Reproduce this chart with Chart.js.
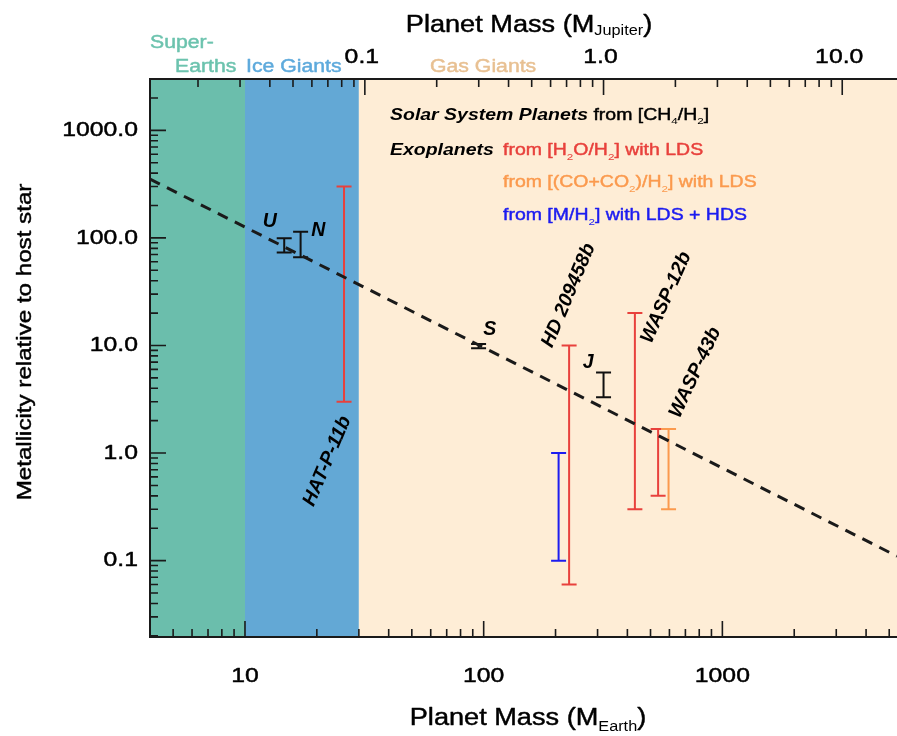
<!DOCTYPE html>
<html>
<head>
<meta charset="utf-8">
<title>Metallicity vs planet mass</title>
<script src="https://cdn.jsdelivr.net/npm/chart.js@4.4.1/dist/chart.umd.min.js"></script>
<style>
  html, body { margin: 0; padding: 0; background: #fff; }
  #wrap { position: relative; width: 897px; height: 736px; }
</style>
</head>
<body>
<div id="wrap"><canvas id="massChart"></canvas></div>
<script>
const FONT = "'Liberation Sans', Arial, sans-serif";
const MJUP = 317.8; // Earth masses in one Jupiter mass

// axis ranges
const massRange = [4, 5390];
const metalRange = [0.0195, 3000];

// labelled ticks
const earthTicks = [10, 100, 1000];
const jupiterTicks = [0.1, 1, 10];
const metalTicks = [0.1, 1, 10, 100, 1000];

// planet classes shaded behind the data
const bandEdges = [4, 10, 30, 5390];
const bandColors = ['#6bbeac', '#63a8d5', '#feedd6'];

// solar system planets, CH4/H2
const solarNames = ['U', 'N', 'S', 'J'];
const solarMass = [14.6, 17.1, 95.2, 317.8];
const solarLow = [73, 66, 9.4, 3.3];
const solarHigh = [99, 114, 10.3, 5.6];

// exoplanets from H2O/H2
const waterNames = ['HAT-P-11b', 'HD 209458b', 'WASP-12b', 'WASP-43b'];
const waterMass = [26, 228, 430, 538];
const waterLow = [3, 0.06, 0.3, 0.4];
const waterHigh = [300, 10, 20, 1.67];

// WASP-43b from (CO+CO2)/H2
const carbonMass = [595];
const carbonLow = [0.3];
const carbonHigh = [1.67];

// HD 209458b from M/H2
const metalMass = [206];
const metalLow = [0.1];
const metalHigh = [1.0];

// power law through the solar system planets
const fitMass = [4, 5390];
const fitMetal = [352, 0.11];

const RED = '#e8413c';
const ORANGE = '#fb9a4e';
const BLUE = '#1c1cf0';

function bars(mass, low, high) {
    return mass.map((m, i) => ({ x: m, y: Math.sqrt(low[i] * high[i]), lo: low[i], hi: high[i] }));
}

// name tags, anchored in data coordinates
const tags = [
    { t: solarNames[0], x: 12.7, y: 141, a: 0 },
    { t: solarNames[1], x: 20.3, y: 116, a: 0 },
    { t: solarNames[2], x: 106, y: 13.9, a: 0 },
    { t: solarNames[3], x: 274, y: 6.9, a: 0 },
    { t: waterNames[0], x: 22.1, y: 0.84, a: -67 },
    { t: waterNames[1], x: 227, y: 29.2, a: -67 },
    { t: waterNames[2], x: 582, y: 27.9, a: -66 },
    { t: waterNames[3], x: 770, y: 5.6, a: -65 },
];

function fontStr(size, bold, italic) {
    return (italic ? 'italic ' : '') + (bold ? 'bold ' : '') + size + 'px ' + FONT;
}

// writes a row of text pieces; pieces flagged sub are set smaller and lower
function drawRuns(ctx, runs, x, y, o) {
    const size = o.size;
    const sx = o.sx || 1;
    ctx.save();
    let w = 0;
    runs.forEach(r => {
        ctx.font = fontStr(r.sub ? size * 0.6 : size, r.bold || o.bold, r.italic || o.italic);
        r.w = ctx.measureText(r.t).width;
        w += r.w;
    });
    ctx.translate(x, y);
    if (o.angle) ctx.rotate(o.angle * Math.PI / 180);
    ctx.scale(sx, 1);
    ctx.textAlign = 'left';
    ctx.textBaseline = o.baseline || 'alphabetic';
    ctx.lineJoin = 'round';
    let cx = o.align === 'center' ? -w / 2 : (o.align === 'right' ? -w : 0);
    runs.forEach(r => {
        const bold = r.bold || o.bold;
        ctx.font = fontStr(r.sub ? size * 0.6 : size, bold, r.italic || o.italic);
        ctx.fillStyle = ctx.strokeStyle = r.color || o.color || '#000';
        const dy = r.sub ? size * (o.subDrop || 0.28) : 0;
        ctx.fillText(r.t, cx, dy);
        if (!bold && !r.sub) {
            // regular weight reads a little heavier in this figure
            ctx.lineWidth = 0.45;
            ctx.strokeText(r.t, cx, dy);
        }
        cx += r.w;
    });
    ctx.restore();
}

function logSteps(lo, hi) {
    const out = [];
    for (let e = Math.floor(Math.log10(lo)); e <= Math.ceil(Math.log10(hi)); e++) {
        for (let m = 1; m < 10; m++) {
            const v = m * Math.pow(10, e);
            if (v >= lo * 0.999 && v <= hi * 1.001) out.push({ v: v, major: m === 1 });
        }
    }
    return out;
}

const backdrop = {
    id: 'backdrop',
    beforeDraw(chart) {
        const { ctx, chartArea: a, scales: { x } } = chart;
        ctx.save();
        ctx.fillStyle = '#fff';
        ctx.fillRect(0, 0, chart.width, chart.height);
        for (let i = 0; i < bandColors.length; i++) {
            const x0 = Math.max(a.left, x.getPixelForValue(bandEdges[i]));
            const x1 = Math.min(a.right, x.getPixelForValue(bandEdges[i + 1]));
            ctx.fillStyle = bandColors[i];
            ctx.fillRect(x0, a.top, x1 - x0, a.bottom - a.top);
        }
        ctx.restore();
    },
    beforeDatasetsDraw(chart) {
        const { ctx, chartArea: a, scales: { x, y } } = chart;
        ctx.save();
        ctx.beginPath();
        ctx.rect(a.left, a.top, a.right - a.left, a.bottom - a.top);
        ctx.clip();
        chart.data.datasets.forEach(ds => {
            if (!ds.errColor) return;
            ctx.strokeStyle = ds.errColor;
            ctx.lineWidth = 2;
            ds.data.forEach(d => {
                const px = x.getPixelForValue(d.x);
                const p0 = y.getPixelForValue(d.lo);
                const p1 = y.getPixelForValue(d.hi);
                ctx.beginPath();
                ctx.moveTo(px, p0); ctx.lineTo(px, p1);
                ctx.moveTo(px - 7.5, p0); ctx.lineTo(px + 7.5, p0);
                ctx.moveTo(px - 7.5, p1); ctx.lineTo(px + 7.5, p1);
                ctx.stroke();
            });
        });
        ctx.restore();
    }
};

const frame = {
    id: 'frame',
    afterDraw(chart) {
        const { ctx, chartArea: a, scales: { x, x2, y } } = chart;
        ctx.save();
        ctx.strokeStyle = '#1a1a1a';
        ctx.lineWidth = 1.6;
        ctx.beginPath();
        logSteps(y.min, y.max).forEach(t => {
            const p = y.getPixelForValue(t.v);
            ctx.moveTo(a.left, p); ctx.lineTo(a.left + (t.major ? 16 : 8), p);
        });
        logSteps(x.min, x.max).forEach(t => {
            const p = x.getPixelForValue(t.v);
            ctx.moveTo(p, a.bottom); ctx.lineTo(p, a.bottom - (t.major ? 16 : 8));
        });
        logSteps(x2.min, x2.max).forEach(t => {
            const p = x2.getPixelForValue(t.v);
            ctx.moveTo(p, a.top); ctx.lineTo(p, a.top + (t.major ? 16 : 8));
        });
        ctx.stroke();

        ctx.lineWidth = 2;
        ctx.beginPath();
        ctx.moveTo(a.right, a.top); ctx.lineTo(a.left, a.top);
        ctx.lineTo(a.left, a.bottom); ctx.lineTo(a.right, a.bottom);
        ctx.stroke();
        ctx.restore();

        // tick labels, set in the same wide face as the rest of the text
        const tl = { size: 21, sx: 1.18, baseline: 'middle' };
        metalTicks.forEach(v => drawRuns(ctx, [{ t: v.toFixed(1) }], a.left - 12, y.getPixelForValue(v),
            Object.assign({ align: 'right' }, tl)));
        earthTicks.forEach(v => drawRuns(ctx, [{ t: String(v) }], x.getPixelForValue(v), a.bottom + 39,
            Object.assign({ align: 'center' }, tl)));
        jupiterTicks.forEach(v => drawRuns(ctx, [{ t: v.toFixed(1) }], x2.getPixelForValue(v) - 3, a.top - 22,
            Object.assign({ align: 'center' }, tl)));

        // planet name tags
        tags.forEach(g => {
            drawRuns(ctx, [{ t: g.t }], x.getPixelForValue(g.x), y.getPixelForValue(g.y),
                { size: 19.5, bold: true, italic: true, angle: g.a, align: 'center', baseline: 'middle' });
        });

        // axis titles
        drawRuns(ctx, [{ t: 'Planet Mass (M' }, { t: 'Jupiter', sub: true }, { t: ')' }], 529, 32,
            { size: 23, sx: 1.18, align: 'center', subDrop: 0.15 });
        drawRuns(ctx, [{ t: 'Planet Mass (M' }, { t: 'Earth', sub: true }, { t: ')' }], 528, 725,
            { size: 23, sx: 1.18, align: 'center', subDrop: 0.25 });
        drawRuns(ctx, [{ t: 'Metallicity relative to host star' }], 31, 342,
            { size: 21, sx: 1.15, align: 'center', angle: -90 });

        // planet classes
        const cls = { size: 18, sx: 1.18 };
        drawRuns(ctx, [{ t: 'Super-', color: '#6cc3ae' }], 150, 47.5, cls);
        drawRuns(ctx, [{ t: 'Earths', color: '#6cc3ae' }], 175, 71.5, cls);
        drawRuns(ctx, [{ t: 'Ice Giants', color: '#5eaadc' }], 246, 71.5, cls);
        drawRuns(ctx, [{ t: 'Gas Giants', color: '#e8c092' }], 430, 71.5, cls);

        // key
        const key = { size: 16.5, sx: 1.18 };
        drawRuns(ctx, [{ t: 'Solar System Planets', bold: true, italic: true }, { t: ' from [CH' },
            { t: '4', sub: true }, { t: '/H' }, { t: '2', sub: true }, { t: ']' }], 390, 119.5, key);
        drawRuns(ctx, [{ t: 'Exoplanets', bold: true, italic: true }], 390, 155, key);
        drawRuns(ctx, [{ t: 'from [H' }, { t: '2', sub: true }, { t: 'O/H' }, { t: '2', sub: true },
            { t: '] with LDS' }], 503, 155, Object.assign({ color: RED }, key));
        drawRuns(ctx, [{ t: 'from [(CO+CO' }, { t: '2', sub: true }, { t: ')/H' }, { t: '2', sub: true },
            { t: '] with LDS' }], 503, 187, Object.assign({ color: ORANGE }, key));
        drawRuns(ctx, [{ t: 'from [M/H' }, { t: '2', sub: true }, { t: '] with LDS + HDS' }], 503, 220,
            Object.assign({ color: BLUE }, key));
    }
};

// the scales only place things; their own labels are switched off
const quietAxis = {
    grid: { display: false, drawTicks: false },
    border: { display: false },
    ticks: { display: false }
};

new Chart(document.getElementById('massChart'), {
    type: 'scatter',
    data: {
        datasets: [
            { data: bars(solarMass, solarLow, solarHigh), errColor: '#111', pointRadius: 0 },
            { data: bars(waterMass, waterLow, waterHigh), errColor: RED, pointRadius: 0 },
            { data: bars(carbonMass, carbonLow, carbonHigh), errColor: ORANGE, pointRadius: 0 },
            { data: bars(metalMass, metalLow, metalHigh), errColor: BLUE, pointRadius: 0 },
            {
                data: fitMass.map((m, i) => ({ x: m, y: fitMetal[i] })),
                showLine: true, pointRadius: 0, borderColor: '#1a1a1a', borderWidth: 3,
                borderDash: [11, 8]
            }
        ]
    },
    options: {
        responsive: true,
        maintainAspectRatio: false,
        animation: false,
        layout: { padding: 0 },
        plugins: { legend: { display: false }, tooltip: { enabled: false } },
        scales: {
            x: Object.assign({
                type: 'logarithmic', position: 'bottom',
                min: massRange[0], max: massRange[1],
                afterFit: s => { s.height = 99; }
            }, quietAxis),
            x2: Object.assign({
                type: 'logarithmic', position: 'top',
                min: massRange[0] / MJUP, max: massRange[1] / MJUP,
                afterFit: s => { s.height = 79; }
            }, quietAxis),
            y: Object.assign({
                type: 'logarithmic', position: 'left',
                min: metalRange[0], max: metalRange[1],
                afterFit: s => { s.width = 150; }
            }, quietAxis)
        }
    },
    plugins: [backdrop, frame]
});
</script>
</body>
</html>
